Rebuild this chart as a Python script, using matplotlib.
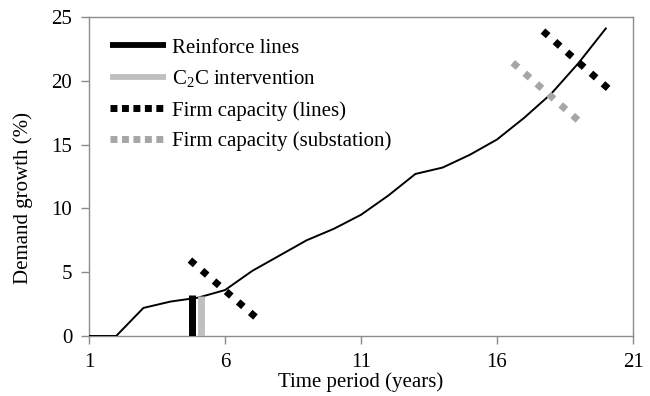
import matplotlib
matplotlib.use("Agg")
import matplotlib.pyplot as plt
from matplotlib.lines import Line2D

plt.rcParams['font.family'] = ['Liberation Serif', 'DejaVu Serif']
plt.rcParams['mathtext.fontset'] = 'custom'
plt.rcParams['mathtext.rm'] = 'Liberation Serif'

# Data
years = list(range(1, 21))
demand = [0, 0, 2.2, 2.7, 3.0, 3.6, 5.1, 6.3, 7.5, 8.4, 9.5, 11.0, 12.7, 13.2,
          14.2, 15.4, 17.1, 19.0, 21.4, 24.1]

reinforce_x = [4.78, 4.78]
reinforce_y = [0, 3.2]
c2c_x = [5.13, 5.13]
c2c_y = [0, 3.1]

firm_lines_a_x = [4.71, 7.13]
firm_lines_a_y = [5.95, 1.47]
firm_lines_b_x = [17.69, 20.11]
firm_lines_b_y = [23.9, 19.36]
firm_sub_x = [16.58, 19.03]
firm_sub_y = [21.42, 16.82]

xticks = [1, 6, 11, 16, 21]
yticks = [0, 5, 10, 15, 20, 25]

W, H = 650, 396
fig = plt.figure(figsize=(W / 100, H / 100), dpi=100)
ax = fig.add_axes([89 / W, 1 - 336 / H, (633 - 89) / W, (336 - 17) / H])

FS = 15
grey_spine = '#8c8c8c'
dash = (0, (1, 1.3))

ax.plot(years, demand, color='black', lw=1.4, zorder=3)
ax.plot(reinforce_x, reinforce_y, color='black', lw=5, solid_capstyle='butt', zorder=4)
ax.plot(c2c_x, c2c_y, color='#bfbfbf', lw=5, solid_capstyle='butt', zorder=4)
ax.plot(firm_lines_a_x, firm_lines_a_y, color='black', lw=5, linestyle=dash,
        dash_capstyle='butt', zorder=5)
ax.plot(firm_lines_b_x, firm_lines_b_y, color='black', lw=5, linestyle=dash,
        dash_capstyle='butt', zorder=5)
ax.plot(firm_sub_x, firm_sub_y, color='#a6a6a6', lw=5, linestyle=dash,
        dash_capstyle='butt', zorder=5)

ax.set_xlim(1, 21)
ax.set_ylim(0, 25)
ax.set_xticks(xticks)
ax.set_yticks(yticks)
ax.tick_params(axis='both', direction='out', length=6, width=1, color=grey_spine,
               labelsize=FS, pad=6)
for s in ax.spines.values():
    s.set_color(grey_spine)
    s.set_linewidth(1)

ax.set_xlabel('Time period (years)', fontsize=FS, labelpad=0.5)
ax.set_ylabel('Demand growth (%)', fontsize=FS)
ax.yaxis.set_label_coords(-0.103, 0.433)

handles = [
    Line2D([], [], color='black', lw=4.2, solid_capstyle='butt'),
    Line2D([], [], color='#bfbfbf', lw=4.2, solid_capstyle='butt'),
    Line2D([], [], color='black', lw=5, linestyle=(0, (1, 0.65)), dash_capstyle='butt'),
    Line2D([], [], color='#a6a6a6', lw=5, linestyle=(0, (1, 0.65)), dash_capstyle='butt'),
]
labels = ['Reinforce lines', 'C$_2$C intervention', 'Firm capacity (lines)',
          'Firm capacity (substation)']
fig.legend(handles, labels, loc='upper left', bbox_to_anchor=(110 / W, 1 - 38 / H),
           frameon=False, fontsize=FS, handlelength=2.69, handletextpad=0.31,
           labelspacing=0.52, borderpad=0, borderaxespad=0)

fig.savefig('out.png', dpi=100)
